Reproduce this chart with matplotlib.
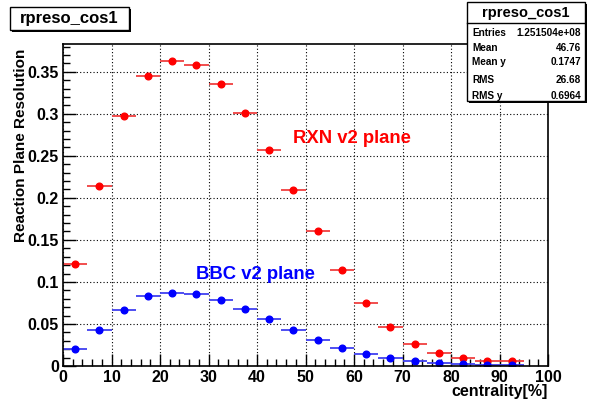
#Reaction plane resolution vs centrality for RXN and BBC v2 planes
#------------------------------------------

import numpy as np
import matplotlib.pyplot as plt
from matplotlib.patches import Rectangle
from matplotlib.ticker import MultipleLocator

#Centrality bins (5% wide)
bin_lo = [0, 5, 10, 15, 20, 25, 30, 35, 40, 45, 50, 55, 60, 65, 70, 75, 80, 85, 90]
bin_width = 5

#Resolution values per bin
rxn_res = [0.121, 0.214, 0.297, 0.345, 0.363, 0.358, 0.336, 0.301, 0.257, 0.209,
           0.160, 0.114, 0.075, 0.046, 0.026, 0.015, 0.009, 0.006, 0.006]
bbc_res = [0.020, 0.043, 0.067, 0.083, 0.087, 0.086, 0.079, 0.068, 0.056, 0.043,
           0.031, 0.021, 0.014, 0.010, 0.006, 0.004, 0.002, 0.001, 0.001]

#Stats box entries
stat_names = ['Entries', 'Mean', 'Mean y', 'RMS', 'RMS y']
stat_vals = ['1.251504e+08', '46.76', '0.1747', '26.68', '0.6964']

plt.rcParams['font.family'] = ['Liberation Sans', 'DejaVu Sans']
plt.rcParams['font.weight'] = 'bold'

W, H = 589, 403
fig = plt.figure(figsize=(W / 100, H / 100), dpi=100)
ax = fig.add_axes([63 / W, 1 - 366 / H, (548 - 63) / W, (366 - 44) / H])

centers = np.array(bin_lo) + bin_width / 2
ax.errorbar(centers, rxn_res, xerr=bin_width / 2, fmt='o', color='red',
            ms=4.8, elinewidth=1.3, capsize=0, ecolor='#f04040')
ax.errorbar(centers, bbc_res, xerr=bin_width / 2, fmt='o', color='blue',
            ms=4.8, elinewidth=1.3, capsize=0, ecolor='#4040f0')

ax.set_xlim(0, 100)
ax.set_ylim(0, 0.383)
ax.xaxis.set_major_locator(MultipleLocator(10))
ax.xaxis.set_minor_locator(MultipleLocator(2))
ax.yaxis.set_major_locator(MultipleLocator(0.05))
ax.yaxis.set_minor_locator(MultipleLocator(0.01))
ax.yaxis.set_major_formatter(plt.FuncFormatter(lambda v, p: ('%g' % round(v, 3))))
ax.tick_params(which='both', direction='in', top=False, right=False,
               labelsize=11.5, width=1)
ax.tick_params(which='major', length=9, pad=3)
ax.tick_params(which='minor', length=5)
ax.grid(True, which='major', color='black', linestyle=(0, (1, 2)), linewidth=0.8)
for s in ax.spines.values():
    s.set_linewidth(1.2)

ax.set_xlabel('centrality[%]', fontsize=11.5, fontweight='bold', loc='right', labelpad=-1)
ax.set_ylabel('Reaction Plane Resolution', fontsize=11, fontweight='bold', loc='top', labelpad=2)
ax.yaxis.set_label_coords(-0.072, 0.985)

ax.text(47.5, 0.265, 'RXN v2 plane', color='red', fontsize=13.3, fontweight='bold')
ax.text(27.5, 0.103, 'BBC v2 plane', color='blue', fontsize=13.3, fontweight='bold')

#Title and stats boxes in pixel coordinates
def box(x0, y0, x1, y1):
    fig.add_artist(Rectangle((x0 / W + 2 / W, 1 - (y1 + 2) / H), (x1 - x0) / W, (y1 - y0) / H,
                             transform=fig.transFigure, facecolor='black', edgecolor='none'))
    fig.add_artist(Rectangle((x0 / W, 1 - y1 / H), (x1 - x0) / W, (y1 - y0) / H,
                             transform=fig.transFigure, facecolor='white', edgecolor='black', lw=1))

box(10, 7, 129, 30)
fig.text(69.5 / W, 1 - 18.5 / H, 'rpreso_cos1', ha='center', va='center', fontsize=12, fontweight='bold')

box(467, 2, 585, 101)
fig.add_artist(plt.Line2D([467 / W, 585 / W], [1 - 22.5 / H, 1 - 22.5 / H], color='black', lw=1))
fig.text(526 / W, 1 - 13 / H, 'rpreso_cos1', ha='center', va='center', fontsize=10.5, fontweight='bold')
rows_y = [32.7, 48.3, 62, 80, 96]
for name, val, yy in zip(stat_names, stat_vals, rows_y):
    fig.text(472 / W, 1 - yy / H, name, ha='left', va='center', fontsize=7.2, fontweight='bold')
    fig.text(581 / W, 1 - yy / H, val, ha='right', va='center', fontsize=7.2, fontweight='bold')

fig.savefig('out.png', dpi=100)
